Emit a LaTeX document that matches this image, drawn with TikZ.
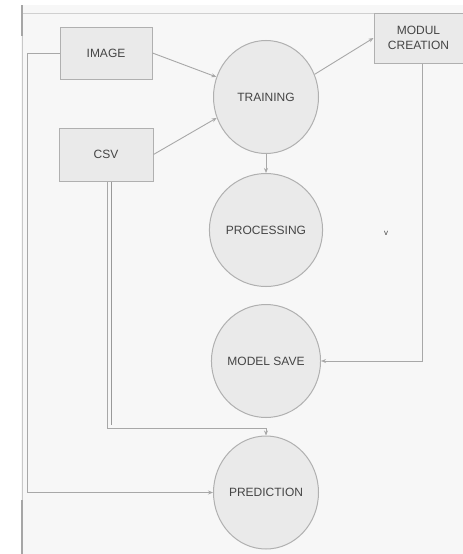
\documentclass[tikz,border=0pt]{standalone}
\usepackage{fontspec}
\setmainfont{Liberation Sans}
\usetikzlibrary{shapes.geometric,arrows.meta}
\definecolor{bgc}{HTML}{F7F7F7}
\definecolor{fillc}{HTML}{EAEAEA}
\definecolor{edgec}{HTML}{B0B0B0}
\definecolor{txtc}{HTML}{454545}
\definecolor{wirec}{HTML}{A8A8A8}
\begin{document}
\begin{tikzpicture}[x=1pt,y=-1pt,
  boxnode/.style={draw=edgec, fill=fillc, line width=1pt, inner sep=0pt,
    text=txtc, font=\fontsize{12}{15}\selectfont, align=center},
  procnode/.style={ellipse, draw=edgec, fill=fillc, line width=1pt, inner sep=0pt,
    minimum width=105pt, minimum height=113pt, text=txtc, font=\fontsize{12}{15}\selectfont},
  wire/.style={draw=wirec, line width=0.9pt},
  arr/.style={-{Stealth[length=5pt,width=4pt]}}]
\useasboundingbox (0,0) rectangle (463,554);
\fill[white] (0,0) rectangle (463,554);
\fill[bgc] (21,5) rectangle (463,554);
\draw[draw=edgec!60, line width=0.6pt] (21,13) -- (463,13);
\draw[draw=gray!70, line width=1.2pt] (22,5) -- (22,36);
\draw[draw=gray!70, line width=1.2pt] (22,500) -- (22,554);
\draw[draw=edgec!70, line width=0.6pt] (22,36) -- (22,500);

\node[boxnode, minimum width=92pt, minimum height=52pt] (image) at (106,53) {IMAGE};
\node[boxnode, minimum width=94pt, minimum height=53pt] (csv) at (106,154.5) {CSV};
\node[boxnode, minimum width=89pt, minimum height=50pt] (modul) at (418.5,38) {MODUL\\CREATION};

\node[procnode] (train) at (266,97) {TRAINING};
\node[procnode] (proc) at (266,230) {PROCESSING};
\node[procnode] (save) at (266,361) {MODEL SAVE};
\node[procnode] (pred) at (266,492.5) {PREDICTION};

\node[text=txtc, font=\fontsize{8}{8}\selectfont] (vmark) at (386,233) {v};

\draw[wire, arr] (image.east) -- (train.158);
\draw[wire, arr] (csv.east) -- (train.203);
\draw[wire, arr] (train.25) -- (modul.west);
\draw[wire, arr] (train.south) -- (proc.north);

\coordinate (mc) at (422,361);
\draw[wire, arr] (modul.south -| mc) -- (mc) -- (save.east);

\coordinate (lc) at (27,53);
\draw[wire, arr] (image.west) -- (lc) -- (lc |- pred.west) -- (pred.west);

\coordinate (cc) at (107.5,428);
\coordinate (cd) at (111.5,425);
\draw[wire, arr] (csv.south -| cc) -- (cc) -- (cc -| pred.north) -- (pred.north);
\draw[draw=gray!80, line width=1pt] (csv.south -| cd) -- (cd);
\end{tikzpicture}
\end{document}
